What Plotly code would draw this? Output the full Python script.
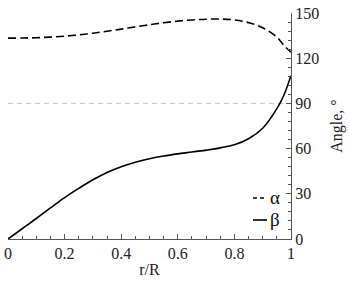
import plotly.graph_objects as go

r = [0, 0.05, 0.1, 0.15, 0.2, 0.25, 0.3, 0.35, 0.4, 0.45, 0.5, 0.55, 0.6, 0.65, 0.7, 0.75, 0.8, 0.85, 0.9, 0.95, 0.975, 1.0]
alpha = [133.3, 133.4, 133.6, 134.0, 134.6, 135.5, 136.6, 137.9, 139.3, 140.8, 142.2, 143.5, 144.6, 145.4, 145.9, 146.0, 145.4, 143.6, 140.2, 134.0, 128.5, 124.0]
beta = [0, 6.8, 13.6, 20.6, 27.5, 33.6, 39.3, 44.2, 48.0, 51.0, 53.3, 55.1, 56.5, 57.7, 59.0, 60.5, 62.5, 66.5, 73.5, 86.5, 95.5, 108.5]
ref_line = [90, 90]
ref_x = [0, 1]
x_ticks = [0, 0.2, 0.4, 0.6, 0.8, 1]
x_ticktext = ["0", "0.2", "0.4", "0.6", "0.8", "1"]
y_ticks = [0, 30, 60, 90, 120, 150]

font = "Liberation Serif, Times New Roman, serif"
W, H = 349, 282
ML, MR, MT, MB = 8, 58, 13, 43
PW, PH = W - ML - MR, H - MT - MB

def px(x):
    return (x - ML) / PW

def py(y):
    return 1 - (y - MT) / PH

fig = go.Figure()
fig.add_trace(go.Scatter(x=ref_x, y=ref_line, mode="lines", showlegend=False,
                         line=dict(color="#c8c8c8", width=1, dash="5px,4px"), hoverinfo="skip"))
fig.add_trace(go.Scatter(x=r, y=alpha, mode="lines", name="α", showlegend=False,
                         line=dict(color="black", width=1.6, dash="8px,4px", shape="spline")))
fig.add_trace(go.Scatter(x=r, y=beta, mode="lines", name="β", showlegend=False,
                         line=dict(color="black", width=1.6, shape="spline")))

# manual legend
fig.add_shape(type="line", xref="paper", yref="paper", x0=px(253), x1=px(267), y0=py(198), y1=py(198),
              line=dict(color="black", width=1.6, dash="4px,3px"))
fig.add_shape(type="line", xref="paper", yref="paper", x0=px(253), x1=px(267), y0=py(220), y1=py(220),
              line=dict(color="black", width=1.6))
fig.add_annotation(text="α", xref="paper", yref="paper", x=px(268), y=py(197), xanchor="left", yanchor="middle",
                   showarrow=False, font=dict(family=font, size=19, color="#111"))
fig.add_annotation(text="β", xref="paper", yref="paper", x=px(268), y=py(219), xanchor="left", yanchor="middle",
                   showarrow=False, font=dict(family=font, size=19, color="#111"))

fig.update_layout(
    width=W, height=H,
    margin=dict(l=ML, r=MR, t=MT, b=MB),
    paper_bgcolor="white", plot_bgcolor="white",
    font=dict(family=font, size=16, color="#222"),
    showlegend=False,
    xaxis=dict(range=[0, 1], showgrid=False, zeroline=False, automargin=False,
               showline=True, linecolor="#555", linewidth=1,
               ticks="inside", ticklen=5, tickcolor="#555",
               tickvals=x_ticks, ticktext=x_ticktext,
               tickfont=dict(family=font, size=16),
               minor=dict(ticks="inside", ticklen=3, dtick=0.05, tickcolor="#555", showgrid=False),
               title=dict(text="r/R", standoff=2, font=dict(family=font, size=16))),
    yaxis=dict(range=[0, 150], side="right", showgrid=False, zeroline=False, automargin=False,
               showline=True, linecolor="#555", linewidth=1,
               ticks="inside", ticklen=5, tickcolor="#555",
               tickvals=y_ticks,
               tickfont=dict(family=font, size=16),
               minor=dict(ticks="inside", ticklen=3, dtick=6, tickcolor="#555", showgrid=False),
               title=dict(text="Angle, °", standoff=12, font=dict(family=font, size=16))),
)

fig.write_html("out.html", config={"displayModeBar": False},
               post_script="document.body.style.margin='0';")
